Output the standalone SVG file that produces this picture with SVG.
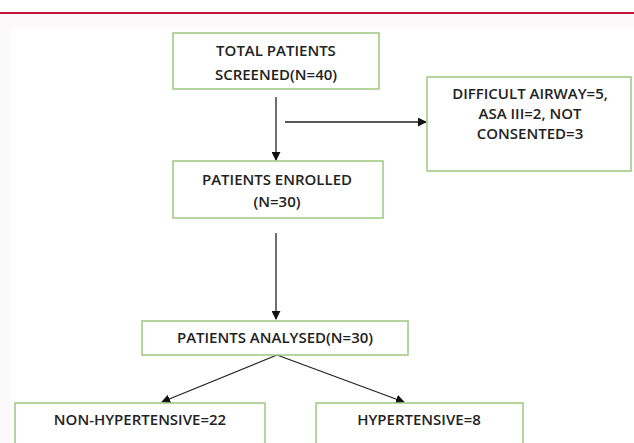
<svg xmlns="http://www.w3.org/2000/svg" width="634" height="443" viewBox="0 0 634 443">
<style>
.box{fill:#fff;stroke:#9cc97e;stroke-width:1.5}
.t{font-family:"Open Sans","Liberation Sans",sans-serif;font-size:15px;font-weight:600;fill:#222;text-anchor:middle}
.c{stroke:#222;stroke-width:1.3;fill:none}
</style>
<defs>
<marker id="ah" viewBox="0 0 10 10" refX="9" refY="5" markerWidth="9" markerHeight="9" markerUnits="userSpaceOnUse" orient="auto">
<path d="M0,0 L10,5 L0,10 z" fill="#111"/>
</marker>
</defs>
<rect x="0" y="0" width="634" height="443" fill="#fbf9fa"/>
<rect x="0" y="0" width="634" height="12" fill="#fff"/>
<rect x="0" y="12" width="634" height="2" fill="#c0163e"/>
<rect x="10" y="28" width="624" height="415" fill="#fff"/>
<g id="connectors">
<line class="c" x1="276" y1="97" x2="276" y2="160" marker-end="url(#ah)"/>
<line class="c" x1="285" y1="122" x2="426" y2="122" marker-end="url(#ah)"/>
<line class="c" x1="276" y1="233" x2="276" y2="319" marker-end="url(#ah)"/>
<line class="c" x1="277" y1="355" x2="162" y2="402" marker-end="url(#ah)"/>
<line class="c" x1="277" y1="355" x2="404" y2="402" marker-end="url(#ah)"/>
</g>
<g id="n1">
<rect class="box" x="173" y="33" width="206" height="56"/>
<text class="t" x="276" y="56">TOTAL PATIENTS</text>
<text class="t" x="276" y="80">SCREENED(N=40)</text>
</g>
<g id="n2">
<rect class="box" x="427" y="77" width="204" height="94"/>
<text class="t" x="530" y="99">DIFFICULT AIRWAY=5,</text>
<text class="t" x="530" y="119">ASA III=2, NOT</text>
<text class="t" x="530" y="139">CONSENTED=3</text>
</g>
<g id="n3">
<rect class="box" x="173" y="161" width="210" height="57"/>
<text class="t" x="277" y="185">PATIENTS ENROLLED</text>
<text class="t" x="277" y="207">(N=30)</text>
</g>
<g id="n4">
<rect class="box" x="142" y="321" width="266" height="34"/>
<text class="t" x="275" y="343">PATIENTS ANALYSED(N=30)</text>
</g>
<g id="n5">
<rect class="box" x="15" y="403" width="250" height="50"/>
<text class="t" x="140" y="425">NON-HYPERTENSIVE=22</text>
</g>
<g id="n6">
<rect class="box" x="316" y="403" width="207" height="50"/>
<text class="t" x="419" y="425">HYPERTENSIVE=8</text>
</g>
</svg>
